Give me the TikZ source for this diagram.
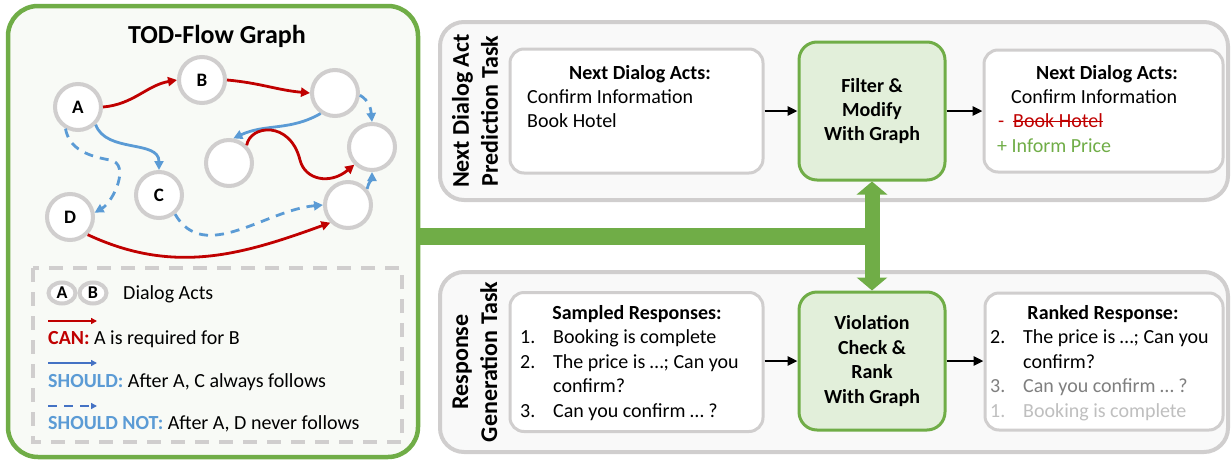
\documentclass[tikz,border=0pt]{standalone}
\usepackage{fontspec}
\setmainfont{Carlito}
\usetikzlibrary{arrows.meta,shapes.geometric}

\definecolor{flowgreen}{HTML}{70AD47}
\definecolor{boxgreen}{HTML}{E2EFDA}
\definecolor{canred}{HTML}{C00000}
\definecolor{shouldblue}{HTML}{5B9BD5}
\definecolor{legendblue}{HTML}{4472C4}
\definecolor{ringgray}{HTML}{D0CECE}
\definecolor{panelbg}{HTML}{F9F9F9}
\definecolor{todbg}{HTML}{F8FAF6}
\definecolor{midgray}{HTML}{7F7F7F}
\definecolor{palegray}{HTML}{BFBFBF}

\begin{document}
\begin{tikzpicture}[%
            x=1pt, y=1pt,
            act/.style={shape=circle, minimum size=46pt, inner sep=0pt, line width=4pt, draw=ringgray, fill=white, font=\fontsize{19}{22}\selectfont\bfseries},
            miniact/.style={shape=ellipse, minimum width=27pt, minimum height=21pt, inner sep=0pt, line width=4pt, draw=ringgray, fill=white, font=\fontsize{18}{20}\selectfont\bfseries},
            can/.style={color=canred, line width=2.8pt, -{Triangle[length=9pt,width=9pt]}},
            should/.style={color=shouldblue, line width=2.8pt, -{Triangle[length=9pt,width=9pt]}},
            shouldnot/.style={should, dash pattern=on 9pt off 7pt},
            legendbox/.style={draw=ringgray, line width=4pt, dash pattern=on 14pt off 10pt},
            task/.style={draw=ringgray, line width=4pt, rounded corners=24pt, fill=panelbg, inner sep=0pt},
            listbox/.style={draw=ringgray, line width=3pt, rounded corners=14pt, fill=white, inner sep=0pt},
            graphbox/.style={draw=flowgreen, line width=3pt, rounded corners=18pt, fill=boxgreen, inner sep=0pt, align=center, font=\fontsize{20}{24.4}\selectfont\bfseries},
            txt/.style={anchor=base west, inner sep=0pt, font=\fontsize{20}{24.4}\selectfont},
            head/.style={anchor=base, inner sep=0pt, font=\fontsize{20}{24.4}\selectfont\bfseries},
            tasklabel/.style={rotate=90, align=center, inner sep=0pt, font=\fontsize{24}{29}\selectfont\bfseries},
            flow/.style={line width=2.5pt, -{Triangle[length=10pt,width=9pt]}},
            graphlink/.style={color=flowgreen, line width=17pt}
        ]
        \useasboundingbox (0,0) rectangle (1232,-461);

        % left panel: the graph
        \node [draw=flowgreen, line width=4.5pt, rounded corners=30pt, fill=todbg,
               minimum width=410pt, minimum height=451pt, inner sep=0pt] (tod) at (213,-231.5) {};
        \node [anchor=base, inner sep=0pt, font=\fontsize{26}{30}\selectfont\bfseries] (title) at (217,-43.5) {TOD-Flow Graph};

        \begin{scope}
            \node [act] (A) at (78,-107) {A};
            \node [act] (B) at (202,-80) {B};
            \node [act] (C) at (159,-195) {C};
            \node [act] (D) at (70,-217) {D};
            \node [act] (E) at (335,-93) {};
            \node [act] (F) at (372,-147) {};
            \node [act] (G) at (229,-163) {};
            \node [act] (H) at (348,-205) {};
            \coordinate (AD) at (110,-160);

            \draw [can] (A.east) to[out=5,in=190] (B.west);
            \draw [can] (B.east) to[out=-5,in=175] (E.west);
            \draw [shouldnot] (E.-5) to[out=-30,in=95] (F.north);
            \draw [should] (E.-125) to[out=-150,in=25] (G.80);
            \draw [can] (G.45) .. controls (250,-125) and (290,-120) .. (300,-160)
                               .. controls (305,-180) and (330,-185) .. (F.-135);
            \draw [should] (H.40) to[out=80,in=-90] (F.south);
            \draw [should] (A.-45) to[out=-70,in=90] (C.north);
            \draw [shouldnot] (A.-120) to[out=-80,in=170] (AD) to[out=-10,in=30] (D.10);
            \draw [shouldnot] (C.-50) to[out=-60,in=185] (H.west);
            \draw [can] (D.-45) to[out=-25,in=200] (H.-135);
        \end{scope}

        % legend
        \begin{scope}
            \draw [legendbox] (33,-268) rectangle (402,-442);
            \node [miniact] (la) at (62,-293) {A};
            \node [miniact] (lb) at (93,-293) {B};
            \node [txt] (lacts) at (123,-299.5) {Dialog Acts};

            \coordinate (lcan1) at (48,-321);
            \coordinate (lcan2) at (97,-321);
            \coordinate (lsh1) at (48,-363);
            \coordinate (lsh2) at (97,-363);
            \coordinate (lsn1) at (48,-406);
            \coordinate (lsn2) at (97,-406);
            \draw [can, line width=2pt, -{Triangle[length=6pt,width=6pt]}] (lcan1) -- (lcan2);
            \draw [should, color=legendblue, line width=2pt, -{Triangle[length=6pt,width=6pt]}] (lsh1) -- (lsh2);
            \draw [should, color=legendblue, line width=2pt, dash pattern=on 9pt off 7pt, -{Triangle[length=6pt,width=6pt]}] (lsn1) -- (lsn2);

            \node [txt] (lcan) at (48,-344.5) {\textcolor{canred}{\bfseries CAN:} A is required for B};
            \node [txt] (lsh) at (48,-387.5) {\textcolor{shouldblue}{\bfseries SHOULD:} After A, C always follows};
            \node [txt] (lsn) at (48,-429.5) {\textcolor{shouldblue}{\bfseries SHOULD NOT:} After A, D never follows};
        \end{scope}

        % next dialog act prediction task
        \begin{scope}
            \node [task, minimum width=788pt, minimum height=178pt] (tp) at (834,-111) {};
            \node [tasklabel] (tpl) at (475,-111) {Next Dialog Act\\Prediction Task};
            \node [listbox, minimum width=253pt, minimum height=124pt] (a1) at (636.5,-111) {};
            \node [graphbox, minimum width=146pt, minimum height=138pt] (f1) at (872,-111) {Filter \&\\Modify\\With Graph};
            \node [listbox, minimum width=239pt, minimum height=122pt] (a2) at (1103.5,-111) {};

            \node [head] (a1h) at (640,-79) {Next Dialog Acts:};
            \node [txt] (a1x) at (527,-103.4) {Confirm Information};
            \node [txt] (a1y) at (527,-127.8) {Book Hotel};

            \node [head] (a2h) at (1107,-79) {Next Dialog Acts:};
            \node [txt] (a2x) at (1011,-103.4) {Confirm Information};
            \node [txt, canred] (a2m) at (998,-127.8) {-};
            \node [txt, canred] (a2y) at (1013,-127.8) {Book Hotel};
            \draw [canred, line width=1.3pt] ([yshift=6pt]a2y.base west) -- ([yshift=6pt]a2y.base east);
            \node [txt, flowgreen] (a2z) at (997,-152.2) {+ Inform Price};

            \draw [flow] (a1.east) -- (f1.west);
            \draw [flow] (f1.east) -- (a2.west);
        \end{scope}

        % response generation task
        \begin{scope}
            \node [task, minimum width=788pt, minimum height=180pt] (bp) at (834,-362) {};
            \node [tasklabel] (bpl) at (475,-362) {Response\\Generation Task};
            \node [listbox, minimum width=253pt, minimum height=139pt] (b1) at (636.5,-362) {};
            \node [graphbox, minimum width=146pt, minimum height=138pt] (g2) at (872,-361) {Violation\\Check \&\\Rank\\With Graph};
            \node [listbox, minimum width=238pt, minimum height=137pt] (b2) at (1104,-361.5) {};

            \node [head] (b1h) at (637,-319.5) {Sampled Responses:};
            \node [txt] (b1n1) at (520,-343.9) {1.};
            \node [txt] (b1t1) at (553,-343.9) {Booking is complete};
            \node [txt] (b1n2) at (520,-368.3) {2.};
            \node [txt] (b1t2) at (553,-368.3) {The price is …; Can you};
            \node [txt] (b1t2b) at (553,-392.7) {confirm?};
            \node [txt] (b1n3) at (520,-417.1) {3.};
            \node [txt] (b1t3) at (553,-417.1) {Can you confirm … ?};

            \node [head] (b2h) at (1103,-319.5) {Ranked Response:};
            \node [txt] (b2n1) at (990,-343.9) {2.};
            \node [txt] (b2t1) at (1023,-343.9) {The price is …; Can you};
            \node [txt] (b2t1b) at (1023,-368.3) {confirm?};
            \node [txt, midgray] (b2n2) at (990,-392.7) {3.};
            \node [txt, midgray] (b2t2) at (1023,-392.7) {Can you confirm … ?};
            \node [txt, palegray] (b2n3) at (990,-417.1) {1.};
            \node [txt, palegray] (b2t3) at (1023,-417.1) {Booking is complete};

            \draw [flow] (g2.west -| b1.east) -- (g2.west);
            \draw [flow] (g2.east) -- (g2.east -| b2.west);
        \end{scope}

        % graph feeds both tasks
        \coordinate (J) at (f1.south |- 0,-236);
        \draw [graphlink] (tod.east |- J) -- ([xshift=7.5pt]J);
        \draw [graphlink, line width=15pt, {Triangle[length=13pt,width=30pt]}-{Triangle[length=13pt,width=30pt]}]
              (f1.south) -- (g2.north);
    \end{tikzpicture}
\end{document}
